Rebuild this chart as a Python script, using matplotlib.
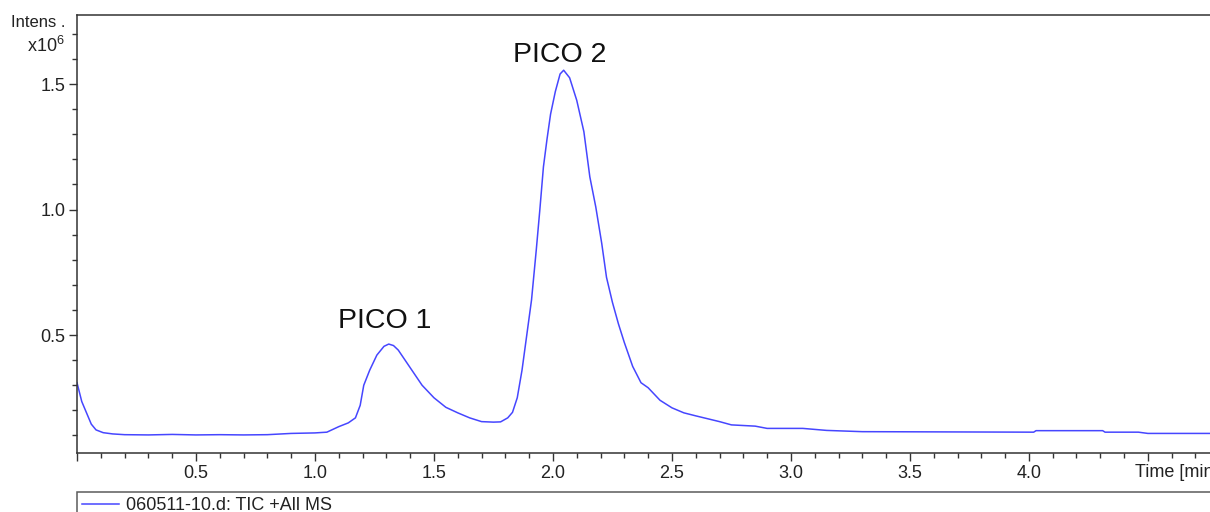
import matplotlib
matplotlib.use('Agg')
import matplotlib.pyplot as plt
from matplotlib.ticker import MultipleLocator

plt.rcParams['font.family'] = ['Liberation Sans', 'DejaVu Sans']
plt.rcParams['mathtext.fontset'] = 'custom'
plt.rcParams['mathtext.rm'] = 'Liberation Sans'

# cromatograma TIC (tiempo en min, intensidad x10^6)
tiempo = [0.0, 0.02, 0.04, 0.06, 0.08, 0.11, 0.15, 0.2, 0.3, 0.4, 0.5, 0.6,
          0.7, 0.8, 0.9, 1.0, 1.05, 1.1, 1.14, 1.17, 1.19, 1.205, 1.23, 1.26,
          1.29, 1.31, 1.33, 1.35, 1.4, 1.45, 1.5, 1.55, 1.6, 1.65, 1.7, 1.75,
          1.78, 1.81, 1.83, 1.85, 1.87, 1.89, 1.91, 1.93, 1.945, 1.96, 1.975,
          1.99, 2.01, 2.03, 2.045, 2.07, 2.1, 2.13, 2.155, 2.18, 2.205, 2.225,
          2.25, 2.275, 2.3, 2.335, 2.37, 2.4, 2.45, 2.5, 2.55, 2.6, 2.7, 2.75,
          2.85, 2.9, 3.05, 3.15, 3.3, 4.02, 4.03, 4.31, 4.32, 4.46, 4.5, 4.76]
intensidad = [0.31, 0.235, 0.19, 0.145, 0.122, 0.111, 0.106, 0.103, 0.102,
              0.104, 0.102, 0.103, 0.102, 0.103, 0.108, 0.110, 0.113, 0.135,
              0.15, 0.17, 0.22, 0.30, 0.36, 0.42, 0.455, 0.464, 0.458, 0.44,
              0.37, 0.30, 0.25, 0.212, 0.19, 0.17, 0.155, 0.153, 0.154, 0.17,
              0.192, 0.25, 0.36, 0.50, 0.64, 0.84, 1.00, 1.17, 1.28, 1.38,
              1.47, 1.54, 1.555, 1.525, 1.435, 1.31, 1.13, 1.01, 0.865, 0.73,
              0.63, 0.545, 0.47, 0.375, 0.31, 0.29, 0.24, 0.21, 0.19, 0.178,
              0.155, 0.142, 0.137, 0.128, 0.128, 0.12, 0.115, 0.113, 0.119,
              0.119, 0.113, 0.113, 0.108, 0.108]

picos = ['PICO 1', 'PICO 2']
picos_t = [1.292, 2.029]
picos_y = [0.528, 1.588]

fig = plt.figure(figsize=(12.1, 5.12), dpi=100)
ax = fig.add_axes([77 / 1210, 1 - 453 / 512, 1 - 77 / 1210, (453 - 15) / 512])

linea, = ax.plot(tiempo, intensidad, color='#4646ff', linewidth=1.1,
                 label='060511-10.d: TIC +All MS')

for nombre, t, y in zip(picos, picos_t, picos_y):
    ax.text(t, y, nombre, ha='center', va='baseline', fontsize=20.5, color='#111111')

ax.set_xlim(0, 4.761)
ax.set_ylim(0.03, 1.775)

ax.xaxis.set_major_locator(MultipleLocator(0.5))
ax.xaxis.set_minor_locator(MultipleLocator(0.1))
ax.yaxis.set_major_locator(MultipleLocator(0.5))
ax.yaxis.set_minor_locator(MultipleLocator(0.1))
# sin etiqueta en 0 ni en 4.5 (ahi va el titulo del eje)
ax.xaxis.set_major_formatter(lambda v, p: '' if v < 0.1 or v > 4.2 else f'{v:.1f}')
ax.yaxis.set_major_formatter(lambda v, p: f'{v:.1f}')

ax.tick_params(which='major', length=6, width=1, color='#333333',
               labelsize=13, labelcolor='#222222', pad=2.5)
ax.tick_params(which='minor', length=3.6, width=1, color='#333333')

ax.spines['right'].set_visible(False)
for s in ['left', 'top', 'bottom']:
    ax.spines[s].set_color('#333333')
    ax.spines[s].set_linewidth(1.1)

# etiquetas de eje
fig.text(65 / 1210, 1 - 27 / 512, 'Intens .', ha='right', va='baseline',
         fontsize=12, color='#222222')
fig.text(65 / 1210, 1 - 52 / 512, 'x10$^{6}$', ha='right', va='baseline',
         fontsize=13, color='#222222')
fig.text(1135 / 1210, 1 - 477 / 512, 'Time [min]', ha='left', va='baseline',
         fontsize=13, color='#222222')

# leyenda
leg = ax.legend(handles=[linea], loc='upper left', mode='expand',
                bbox_to_anchor=(0, -0.188, 1.05, 0.1), fontsize=13,
                frameon=True, fancybox=False, borderaxespad=0,
                handlelength=2.0, handletextpad=0.4, borderpad=0.3)
leg.get_frame().set_edgecolor('#333333')
leg.get_frame().set_linewidth(1.1)
for t in leg.get_texts():
    t.set_color('#222222')

plt.savefig('out.png', dpi=100)
